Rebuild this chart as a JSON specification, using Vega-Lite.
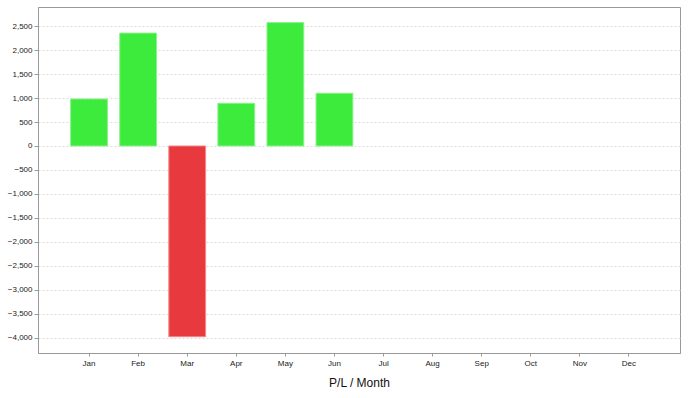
{
  "$schema": "https://vega.github.io/schema/vega-lite/v6.json",
  "autosize": {"type": "none"},
  "padding": {"left": 38, "top": 7, "right": 8, "bottom": 45},
  "width": 642,
  "height": 346,
  "background": "white",
  "data": {"values": [
    {"month": "Jan", "pl": 980},
    {"month": "Feb", "pl": 2355},
    {"month": "Mar", "pl": -3980},
    {"month": "Apr", "pl": 890},
    {"month": "May", "pl": 2575},
    {"month": "Jun", "pl": 1100}
  ]},
  "mark": {"type": "bar", "strokeWidth": 1},
  "encoding": {
    "x": {
      "field": "month", "type": "nominal",
      "scale": {"domain": ["Jan","Feb","Mar","Apr","May","Jun","Jul","Aug","Sep","Oct","Nov","Dec"], "paddingInner": 0.25, "paddingOuter": 0.665},
      "axis": {"title": "P/L / Month", "labelAngle": 0, "grid": false, "tickSize": 3, "labelPadding": 3, "titlePadding": 10}
    },
    "y": {
      "field": "pl", "type": "quantitative",
      "scale": {"domain": [-4320, 2900], "nice": false, "zero": false},
      "axis": {"title": null, "values": [-4000,-3500,-3000,-2500,-2000,-1500,-1000,-500,0,500,1000,1500,2000,2500], "format": ",.0f", "tickSize": 4, "labelPadding": 2, "grid": true, "gridDash": [2, 2], "gridColor": "#dddddd"}
    },
    "color": {"condition": {"test": "datum.pl < 0", "value": "#E8393E"}, "value": "#3DEB3D"},
    "stroke": {"condition": {"test": "datum.pl < 0", "value": "#F08A8C"}, "value": "#8CF08C"}
  },
  "config": {
    "view": {"stroke": "#999999", "strokeWidth": 1},
    "axis": {
      "labelFont": "Liberation Sans", "labelFontSize": 8, "labelColor": "#222222",
      "titleFont": "Liberation Sans", "titleFontSize": 12, "titleFontWeight": "normal", "titleColor": "#111111",
      "domainColor": "#999999", "tickColor": "#999999"
    }
  }
}
